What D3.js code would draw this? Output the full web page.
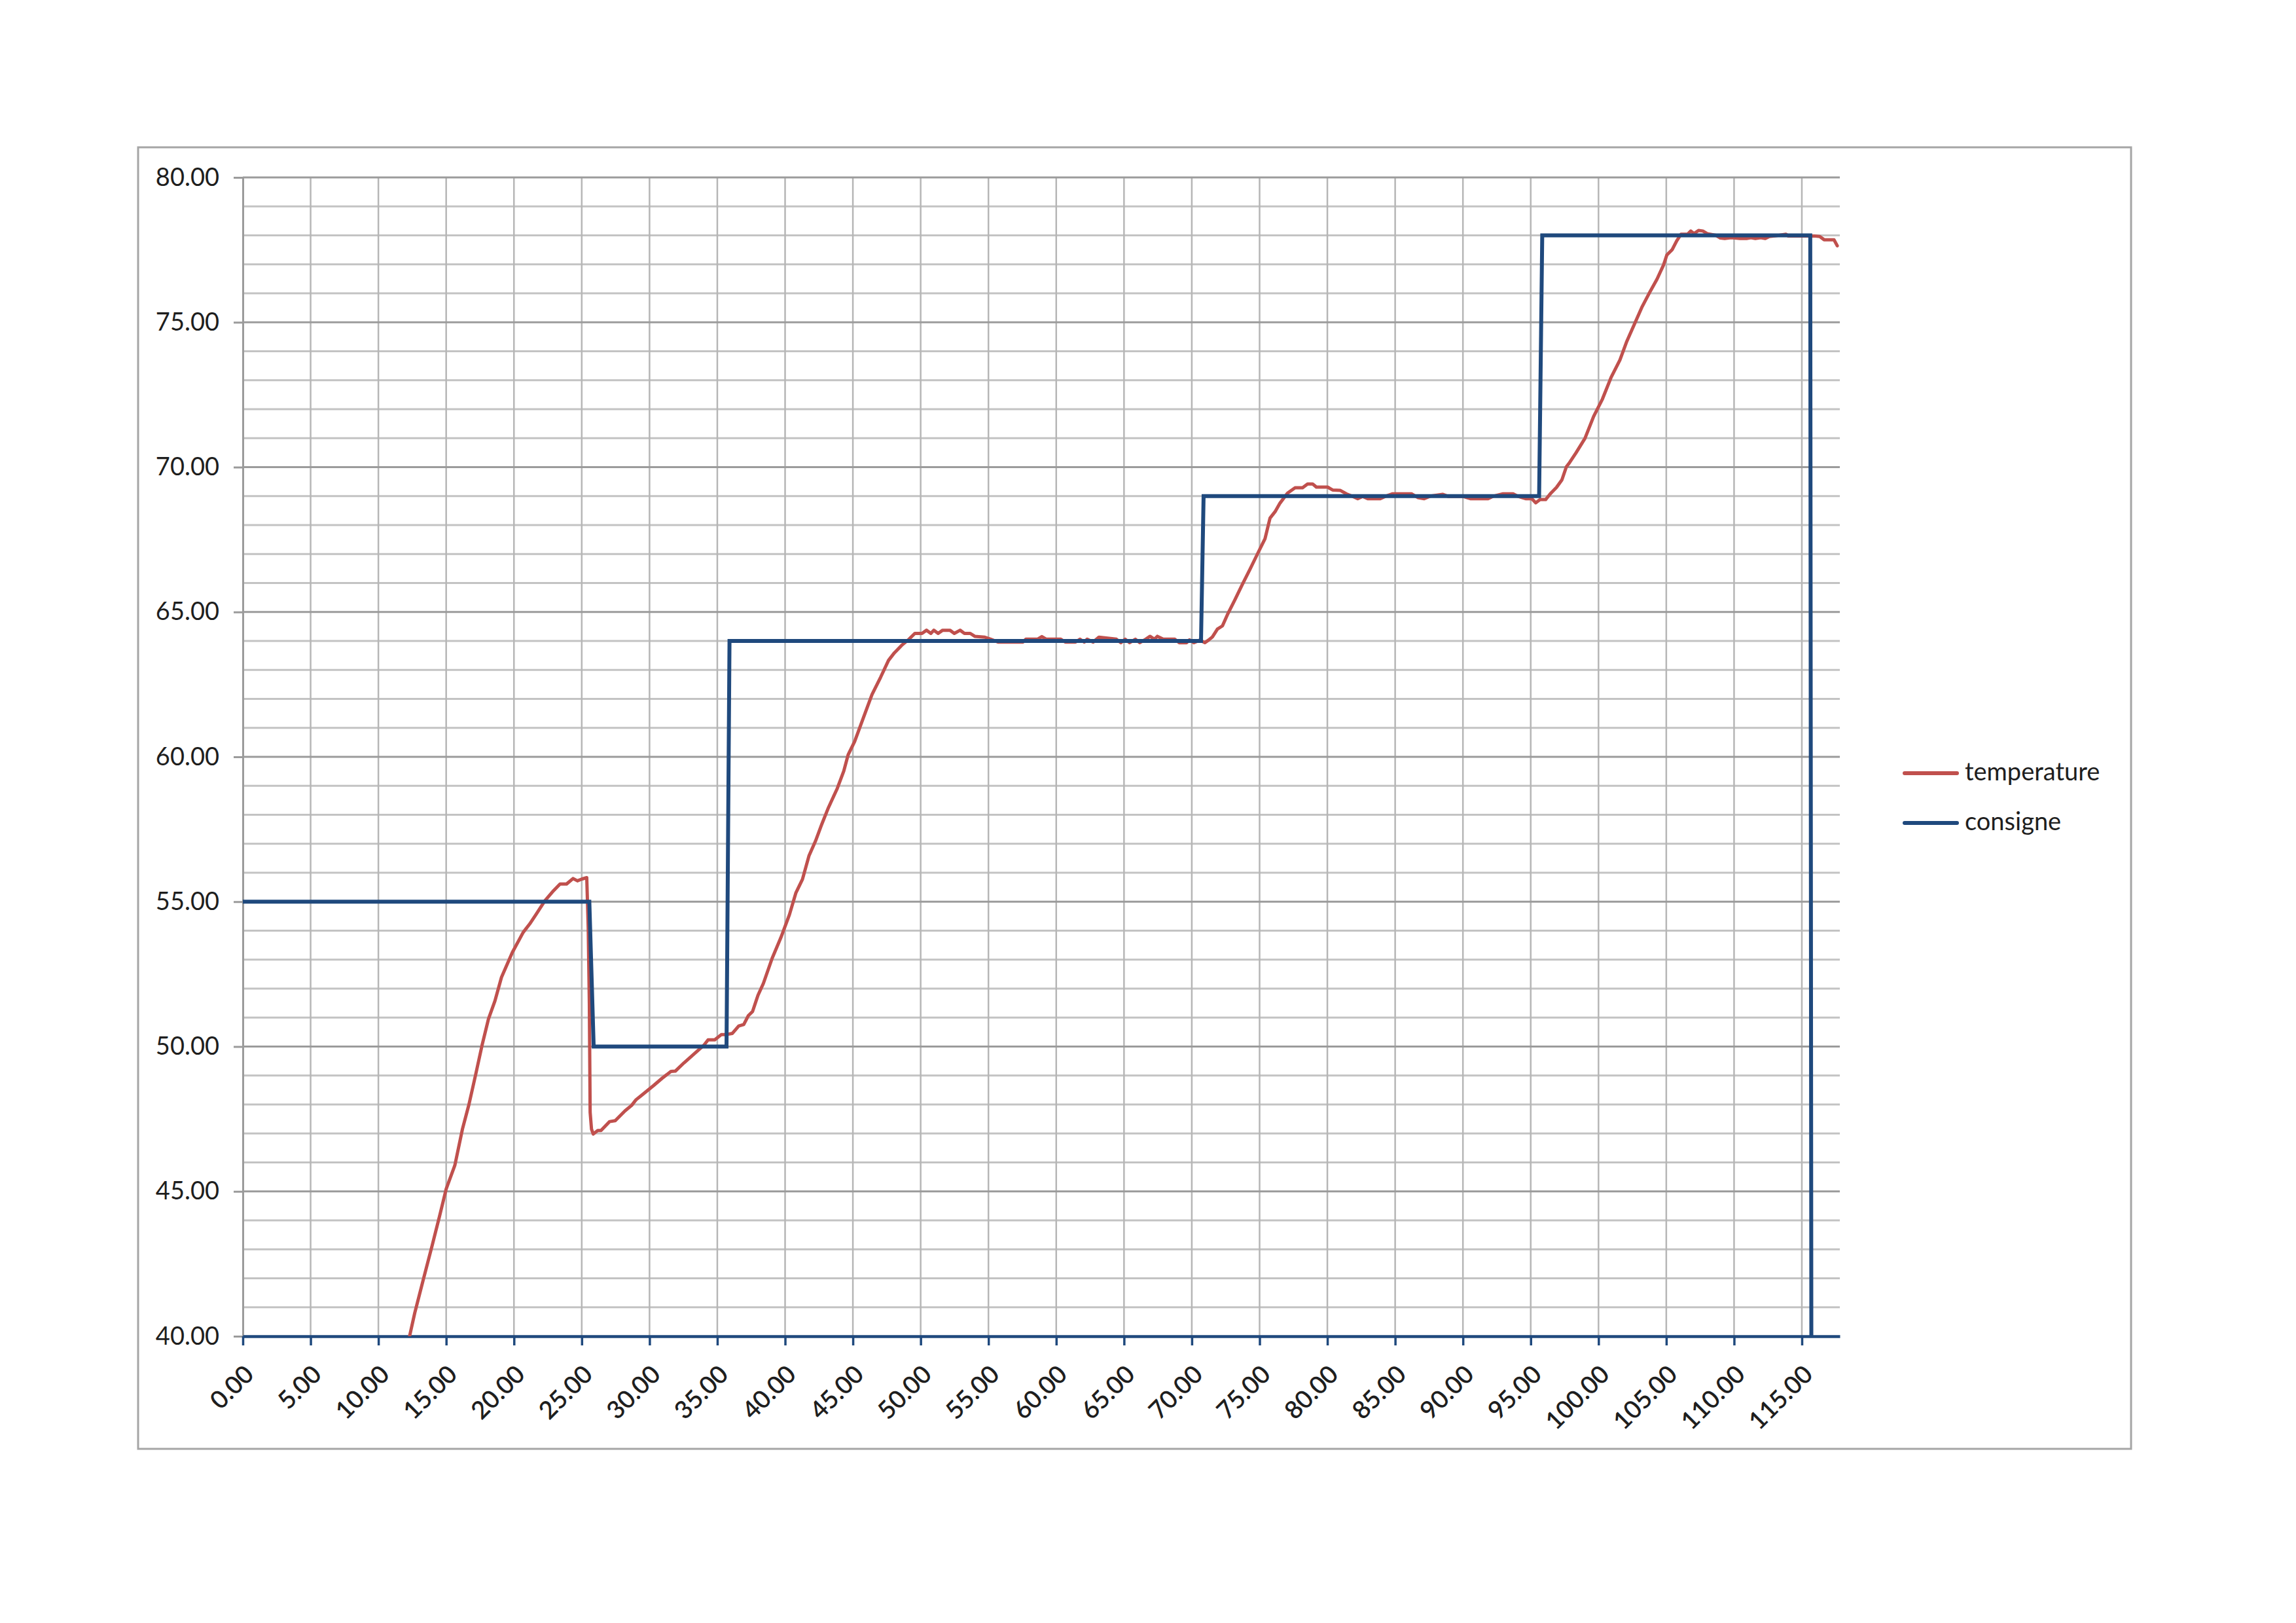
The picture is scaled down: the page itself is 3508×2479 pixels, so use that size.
<!DOCTYPE html>
<html>
<head>
<meta charset="utf-8">
<script src="https://cdn.jsdelivr.net/npm/d3@7"></script>
<style>
  html, body { margin: 0; padding: 0; background: #ffffff; }
  svg { display: block; }
  text { font-family: Lato, "Open Sans", "DejaVu Sans", sans-serif; fill: #1e1e1e; }
</style>
</head>
<body>
<script>
// ---------------- data ----------------
const seriesNames = ["temperature", "consigne"];
const seriesColors = ["#C0504D", "#1F497D"];

const xTickValues = d3.range(0, 116, 5);           // 0.00 ... 115.00
const yTickValues = d3.range(40, 81, 5);           // 40.00 ... 80.00
const yMinorValues = d3.range(41, 80, 1).filter(v => v % 5 !== 0);

const temperature = [
  [12.3,40.0],[12.68,40.8],[13.32,41.97],[13.96,43.12],[14.52,44.16],[15.0,45.08],[15.64,45.9],[16.2,47.15],
  [16.68,48.0],[17.16,49.0],[17.64,50.03],[18.12,50.95],[18.6,51.58],[19.08,52.39],[19.88,53.25],[20.68,53.94],
  [21.16,54.23],[21.64,54.57],[22.28,55.03],[22.92,55.38],[23.4,55.61],[23.88,55.61],[24.36,55.8],[24.68,55.72],
  [25.0,55.78],[25.37,55.83],[25.48,54.06],[25.56,51.5],[25.62,47.73],[25.72,47.15],[25.85,46.98],[26.18,47.1],
  [26.42,47.1],[27.06,47.41],[27.47,47.44],[28.19,47.78],[28.68,47.97],[29.0,48.16],[29.4,48.31],[30.29,48.65],
  [30.94,48.91],[31.58,49.14],[31.9,49.15],[32.55,49.44],[33.35,49.77],[34.0,50.04],[34.32,50.23],[34.81,50.23],
  [35.29,50.41],[35.6,50.41],[36.1,50.45],[36.58,50.71],[36.95,50.76],[37.28,51.06],[37.6,51.21],[38.0,51.77],
  [38.4,52.18],[39.04,53.04],[39.68,53.75],[40.32,54.55],[40.8,55.31],[41.28,55.77],[41.76,56.58],[42.24,57.09],
  [42.72,57.69],[43.2,58.25],[43.85,58.91],[44.33,59.51],[44.65,60.07],[45.13,60.53],[45.77,61.34],[46.41,62.15],
  [47.05,62.75],[47.63,63.33],[48.06,63.59],[48.6,63.85],[49.14,64.06],[49.57,64.26],[50.1,64.26],[50.43,64.37],
  [50.75,64.26],[50.97,64.37],[51.29,64.26],[51.62,64.37],[52.16,64.37],[52.48,64.26],[52.91,64.37],[53.23,64.26],
  [53.66,64.26],[53.99,64.16],[54.74,64.13],[55.17,64.06],[55.71,63.96],[57.54,63.96],[57.76,64.06],[58.62,64.06],
  [58.94,64.15],[59.27,64.06],[60.34,64.06],[60.67,63.96],[61.42,63.96],[61.75,64.06],[62.07,63.96],[62.28,64.06],
  [62.72,63.96],[63.15,64.13],[64.44,64.06],[64.76,63.94],[65.09,64.06],[65.41,63.94],[65.84,64.06],[66.16,63.94],
  [66.6,64.06],[66.92,64.16],[67.24,64.06],[67.46,64.16],[67.89,64.06],[68.75,64.06],[69.07,63.94],[69.61,63.94],
  [69.83,64.04],[70.15,63.94],[70.6,64.03],[70.96,63.94],[71.24,64.03],[71.52,64.14],[71.89,64.41],[72.26,64.52],
  [72.62,64.9],[73.18,65.42],[73.73,65.95],[74.29,66.47],[74.84,67.0],[75.4,67.53],[75.77,68.24],[76.14,68.46],
  [76.51,68.76],[77.06,69.1],[77.62,69.29],[78.17,69.29],[78.54,69.42],[78.91,69.42],[79.19,69.31],[80.02,69.31],
  [80.39,69.21],[80.94,69.2],[81.4,69.08],[81.87,68.99],[82.24,68.91],[82.6,68.99],[82.98,68.91],[83.9,68.91],
  [84.27,68.99],[84.82,69.08],[86.2,69.08],[86.67,68.95],[87.14,68.91],[87.6,69.0],[88.52,69.06],[88.9,68.99],
  [90.0,68.99],[90.55,68.91],[91.85,68.91],[92.2,68.99],[92.96,69.08],[93.7,69.08],[94.07,68.99],[94.62,68.91],
  [95.08,68.91],[95.37,68.77],[95.69,68.88],[96.1,68.88],[96.5,69.11],[96.9,69.3],[97.3,69.56],[97.63,70.01],
  [97.87,70.16],[98.35,70.5],[99.0,70.99],[99.64,71.75],[100.29,72.35],[100.93,73.1],[101.58,73.7],[102.06,74.31],
  [102.7,74.99],[103.19,75.51],[103.83,76.08],[104.32,76.49],[104.8,76.98],[105.04,77.32],[105.44,77.51],[105.77,77.81],
  [106.09,78.04],[106.57,78.04],[106.81,78.15],[107.05,78.06],[107.38,78.17],[107.7,78.15],[108.02,78.06],[108.67,78.0],
  [108.99,77.91],[109.31,77.89],[109.79,77.92],[110.44,77.89],[110.92,77.89],[111.24,77.92],[111.57,77.89],[111.97,77.92],
  [112.3,77.89],[112.6,77.96],[113.0,77.98],[113.83,78.04],[114.0,77.98],[115.92,77.98],[116.32,77.96],[116.64,77.85],
  [117.37,77.85],[117.61,77.64]
];

const consigne = [
  [0,55],[25.56,55],[25.88,50],[35.68,50],[35.9,64],[70.68,64],[70.87,69],
  [95.62,69],[95.85,78],[115.62,78],[115.7,40]
];

// ---------------- layout ----------------
const W = 3508, H = 2479;
const frame = {x: 211, y: 225, w: 3045, h: 1988};
const plot = {left: 371, right: 2811, top: 271, bottom: 2041};

const svg = d3.select("body").append("svg").attr("width", W).attr("height", H);
svg.append("rect").attr("width", W).attr("height", H).attr("fill", "#fff");

// outer frame
svg.append("rect")
  .attr("x", frame.x).attr("y", frame.y).attr("width", frame.w).attr("height", frame.h)
  .attr("fill", "none").attr("stroke", "#a5a5a5").attr("stroke-width", 3);

const x = d3.scaleLinear().domain([0, 117.8]).range([plot.left, plot.right]);
const y = d3.scaleLinear().domain([40, 80]).range([plot.bottom, plot.top]);

// minor horizontal gridlines
svg.append("g").selectAll("line").data(yMinorValues).join("line")
  .attr("x1", plot.left).attr("x2", plot.right)
  .attr("y1", d => y(d)).attr("y2", d => y(d))
  .attr("stroke", "#c3c3c3").attr("stroke-width", 3);

// vertical gridlines
svg.append("g").selectAll("line").data(xTickValues.filter(v => v > 0)).join("line")
  .attr("x1", d => x(d)).attr("x2", d => x(d))
  .attr("y1", plot.top).attr("y2", plot.bottom)
  .attr("stroke", "#b6b6b6").attr("stroke-width", 2.5);

// major horizontal gridlines
svg.append("g").selectAll("line").data(yTickValues.filter(v => v > 40)).join("line")
  .attr("x1", plot.left).attr("x2", plot.right)
  .attr("y1", d => y(d)).attr("y2", d => y(d))
  .attr("stroke", "#9b9b9b").attr("stroke-width", 3);

// y axis
const yAxis = d3.axisLeft(y).tickValues(yTickValues).tickSize(14).tickPadding(22)
  .tickFormat(d3.format(".2f"));
const gy = svg.append("g").attr("transform", `translate(${plot.left},0)`).call(yAxis);
gy.select(".domain").attr("stroke", "#9b9b9b").attr("stroke-width", 3);
gy.selectAll(".tick line").attr("stroke", "#9b9b9b").attr("stroke-width", 3);
gy.selectAll(".tick text")
  .attr("font-family", "Lato, sans-serif").attr("font-size", 38).attr("fill", "#1e1e1e");

// x axis
const xAxis = d3.axisBottom(x).tickValues(xTickValues).tickSize(14).tickSizeOuter(0)
  .tickFormat(d3.format(".2f"));
const gx = svg.append("g").attr("transform", `translate(0,${plot.bottom})`).call(xAxis);
gx.select(".domain").attr("stroke", "#1F497D").attr("stroke-width", 4.5);
gx.selectAll(".tick line").attr("stroke", "#1F497D").attr("stroke-width", 3.5);
gx.selectAll(".tick text")
  .attr("font-family", "Lato, sans-serif").attr("font-size", 38).attr("font-weight", 600)
  .attr("fill", "#1a1a1a")
  .attr("text-anchor", "end")
  .attr("dy", null)
  .attr("y", 0)
  .attr("dominant-baseline", "central")
  .attr("transform", "translate(8,50) rotate(-45)");

// clip
svg.append("clipPath").attr("id", "plotclip").append("rect")
  .attr("x", plot.left).attr("y", plot.top - 6)
  .attr("width", plot.right - plot.left).attr("height", plot.bottom - plot.top + 6);

const line = d3.line().x(d => x(d[0])).y(d => y(d[1]));

const lines = svg.append("g").attr("clip-path", "url(#plotclip)");
lines.append("path").datum(temperature)
  .attr("d", line).attr("fill", "none")
  .attr("stroke", seriesColors[0]).attr("stroke-width", 5)
  .attr("stroke-linejoin", "round").attr("stroke-linecap", "round");
lines.append("path").datum(consigne)
  .attr("d", line).attr("fill", "none")
  .attr("stroke", seriesColors[1]).attr("stroke-width", 6)
  .attr("stroke-linejoin", "miter");

// legend
const legend = svg.append("g");
const legendY = [1181, 1257];
seriesNames.forEach((name, i) => {
  legend.append("line")
    .attr("x1", 2910).attr("x2", 2990)
    .attr("y1", legendY[i]).attr("y2", legendY[i])
    .attr("stroke", seriesColors[i]).attr("stroke-width", 6)
    .attr("stroke-linecap", "round");
  legend.append("text")
    .attr("x", 3002).attr("y", legendY[i] + 11)
    .attr("font-family", "Lato, sans-serif").attr("font-size", 38).attr("fill", "#1e1e1e")
    .text(name);
});
</script>
</body>
</html>
